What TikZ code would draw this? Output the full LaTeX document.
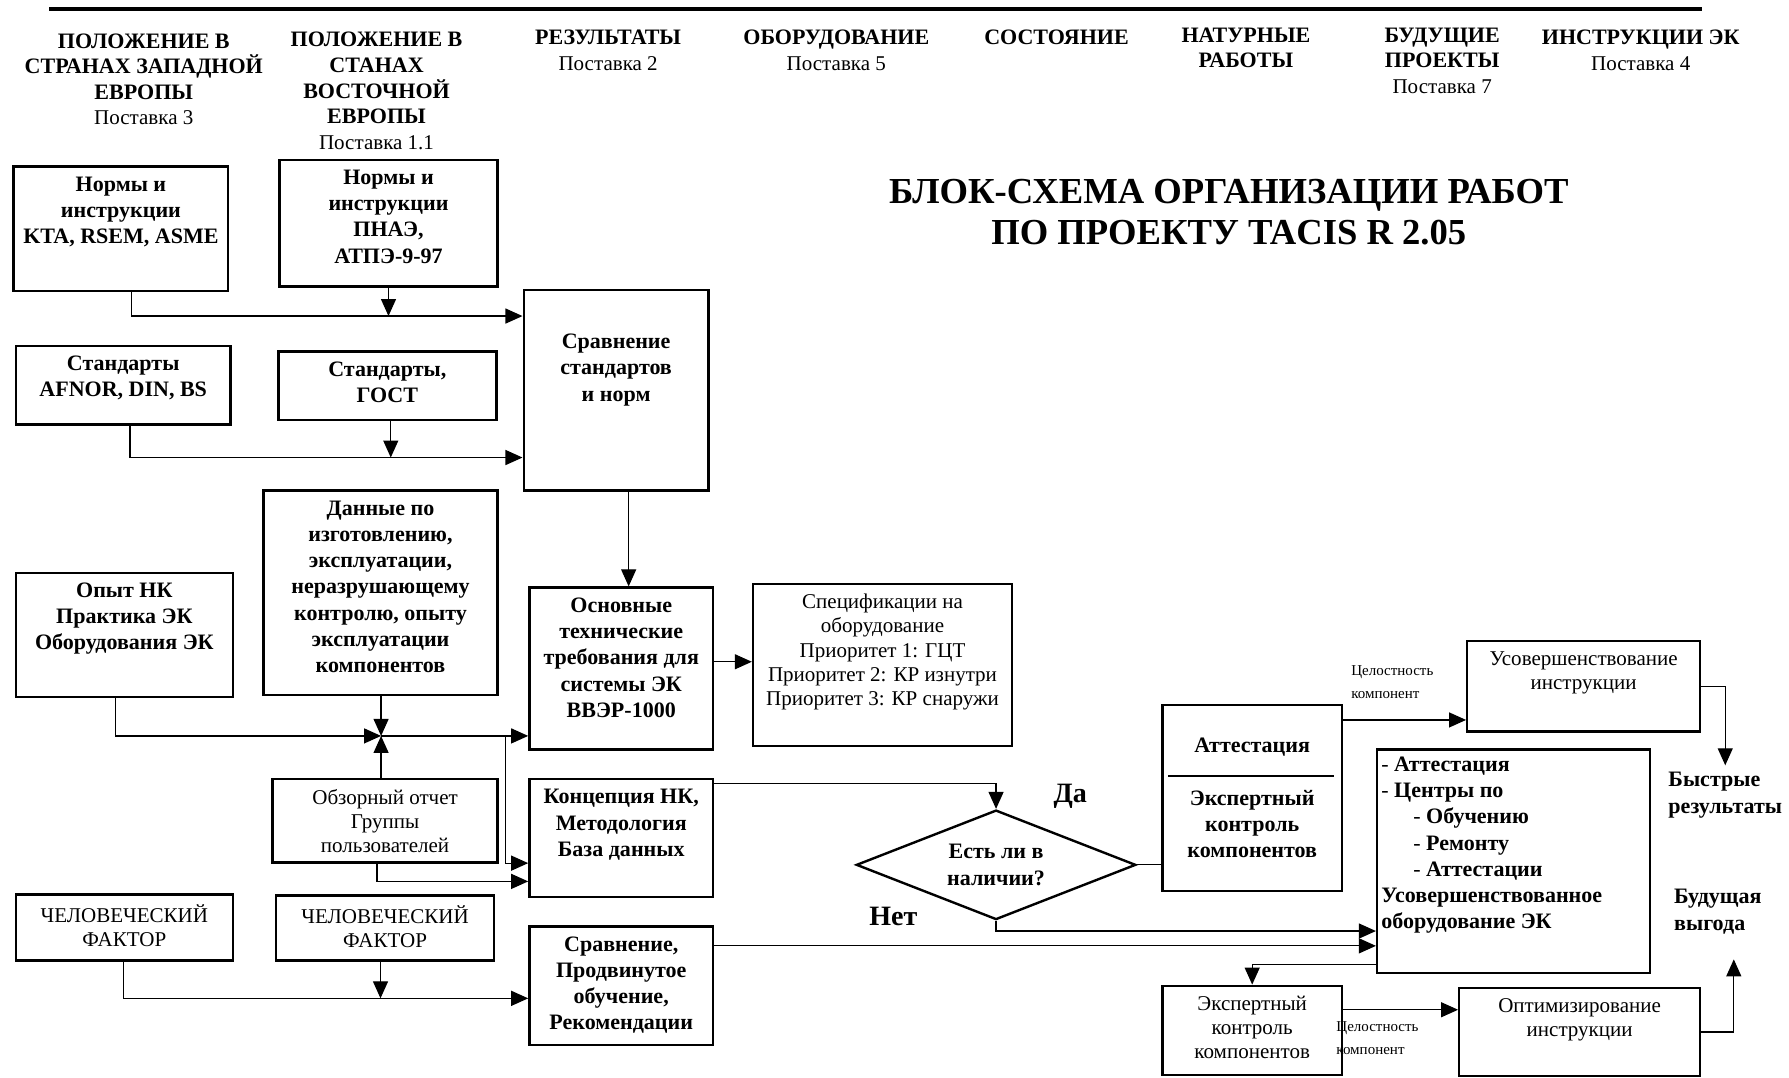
\documentclass[tikz,border=0pt]{standalone}
\usepackage{fontspec}
\setmainfont{Liberation Serif}
\usetikzlibrary{shapes.geometric, arrows.meta, positioning, calc}

\newcommand{\bsz}{\fontsize{11}{13.1}\selectfont}
\newcommand{\rsz}{\fontsize{10.5}{12}\selectfont}
\newcommand{\pst}[1]{{\mdseries\fontsize{10.5}{12.8}\selectfont #1}}

\begin{document}
\begin{tikzpicture}[x=0.57pt, y=-0.57pt,
  blk/.style={draw, line width=1.2pt, inner sep=0pt},
  sz/.style 2 args={minimum width=#1*0.57pt, minimum height=#2*0.57pt},
  lb/.style={anchor=north, yshift=-3.5pt, align=center, inner sep=2pt},
  bt/.style={label={[lb, font=\bfseries\bsz]north:{#1}}},
  rt/.style={label={[lb, font=\rsz]north:{#1}}},
  hdr/.style={anchor=north, align=center, inner sep=0pt, font=\bfseries\fontsize{11}{12.8}\selectfont},
  side/.style={anchor=west, align=left, inner sep=0pt, font=\bfseries\bsz},
  note/.style={anchor=north west, align=left, inner sep=0pt, font=\fontsize{7.5}{11.4}\selectfont},
  arr/.style={-{Triangle[length=8.5pt, width=7.5pt]}, line width=0.6pt},
  ln/.style={line width=0.6pt}
]
  \useasboundingbox (0,0) rectangle (1568,944);
  \draw[line width=1.7pt] (43,8) -- (1492,8);

  % column heads
  \node[hdr] (hdwest) at (126,29) {ПОЛОЖЕНИЕ В\\СТРАНАХ ЗАПАДНОЙ\\ЕВРОПЫ\\\pst{Поставка 3}};
  \node[hdr] (hdeast) at (330,28) {ПОЛОЖЕНИЕ В\\СТАНАХ\\ВОСТОЧНОЙ\\ЕВРОПЫ\\\pst{Поставка 1.1}};
  \node[hdr] (hdres) at (533,26) {РЕЗУЛЬТАТЫ\\\pst{Поставка 2}};
  \node[hdr] (hdequip) at (733,26) {ОБОРУДОВАНИЕ\\\pst{Поставка 5}};
  \node[hdr] (hdstate) at (926,26) {СОСТОЯНИЕ};
  \node[hdr] (hdfield) at (1092,24) {НАТУРНЫЕ\\РАБОТЫ};
  \node[hdr] (hdfut) at (1264,24) {БУДУЩИЕ\\ПРОЕКТЫ\\\pst{Поставка 7}};
  \node[hdr] (hdinstr) at (1438,26) {ИНСТРУКЦИИ ЭК\\\pst{Поставка 4}};

  \node[anchor=north, align=center, inner sep=0pt, font=\bfseries\fontsize{18.3}{20.3}\selectfont] (title) at (1077,157)
    {БЛОК-СХЕМА ОРГАНИЗАЦИИ РАБОТ\\ПО ПРОЕКТУ TACIS R 2.05};

  % boxes
  \node[blk, sz={188}{109}, bt={Нормы и\\инструкции\\KTA, RSEM, ASME}] (nwest) at (106,200.5) {};
  \node[blk, sz={191}{111}, bt={Нормы и\\инструкции\\ПНАЭ,\\АТПЭ-9-97}] (neast) at (340.5,195.5) {};
  \node[blk, sz={162}{176}, label={[lb, yshift=-17pt, font=\bfseries\bsz]north:{Сравнение\\стандартов\\и норм}}] (cmp) at (540,342) {};
  \node[blk, sz={188}{69}, bt={Стандарты\\AFNOR, DIN, BS}] (swest) at (108,337.5) {};
  \node[blk, sz={191}{60}, bt={Стандарты,\\ГОСТ}] (seast) at (339.5,338) {};
  \node[blk, sz={205}{179}, bt={Данные по\\изготовлению,\\эксплуатации,\\неразрушающему\\контролю, опыту\\эксплуатации\\компонентов}] (data) at (333.5,519.5) {};
  \node[blk, sz={190}{109}, bt={Опыт НК\\Практика ЭК\\Оборудования ЭК}] (ndt) at (109,556.5) {};
  \node[blk, sz={161}{142}, bt={Основные\\технические\\требования для\\системы ЭК\\ВВЭР-1000}] (req) at (544.5,586) {};
  \node[blk, sz={227}{142}, rt={Спецификации на\\оборудование\\Приоритет 1: ГЦТ\\Приоритет 2: КР изнутри\\Приоритет 3: КР снаружи}] (spec) at (773.5,583) {};
  \node[blk, sz={197}{73}, rt={Обзорный отчет\\Группы\\пользователей}] (rev) at (337.5,719.5) {};
  \node[blk, sz={161}{103}, bt={Концепция НК,\\Методология\\База данных}] (conc) at (544.5,734.5) {};
  \node[blk, sz={190}{58}, rt={ЧЕЛОВЕЧЕСКИЙ\\ФАКТОР}] (hum1) at (109,813) {};
  \node[blk, sz={191}{57}, rt={ЧЕЛОВЕЧЕСКИЙ\\ФАКТОР}] (hum2) at (337.5,813.5) {};
  \node[blk, sz={161}{104}, bt={Сравнение,\\Продвинутое\\обучение,\\Рекомендации}] (train) at (544.5,864) {};

  \node[blk, diamond, aspect=2.55, sz={245}{96}, inner sep=1pt, align=center, font=\bfseries\bsz] (avail) at (873,758) {Есть ли в\\наличии?};
  \node[font=\bfseries\fontsize{14}{16}\selectfont] (yes) at (938,698) {Да};
  \node[font=\bfseries\fontsize{14}{16}\selectfont] (no) at (783,803) {Нет};

  \node[blk, sz={157}{163}, align=center, font=\bfseries\bsz] (att) at (1097.5,699.5) {Аттестация\\[13pt]Экспертный\\контроль\\компонентов};
  \draw[line width=0.8pt] ($(att.west)+(6,-19.5)$) -- ($(att.east)+(-8,-19.5)$);
  \node[blk, sz={204}{79}, rt={Усовершенствование\\инструкции}] (impr) at (1388,601.5) {};
  \node[blk, sz={239}{196}, label={[anchor=north west, align=left, inner sep=0pt, xshift=2.5pt, yshift=-4pt, font=\bfseries\bsz]north west:{{\mdseries -} Аттестация\\{\mdseries -} Центры по\\\hspace*{16pt}{\mdseries -} Обучению\\\hspace*{16pt}{\mdseries -} Ремонту\\\hspace*{16pt}{\mdseries -} Аттестации\\Усовершенствованное\\оборудование ЭК}}] (ctr) at (1326.5,755) {};
  \node[blk, sz={157}{78}, rt={Экспертный\\контроль\\компонентов}] (exp) at (1097.5,903) {};
  \node[blk, sz={211}{77}, rt={Оптимизирование\\инструкции}] (opt) at (1384.5,904.5) {};

  \node[side] (fast) at (1462,697) {Быстрые\\результаты};
  \node[side] (gain) at (1467,799) {Будущая\\выгода};
  \node[note] (int1) at (1184,583) {Целостность\\компонент};
  \node[note] (int2) at (1171,895) {Целостность\\компонент};

  % connectors
  \coordinate (busA) at ($(cmp.west)+(0,-65)$);
  \coordinate (busB) at ($(cmp.west)+(0,59)$);
  \coordinate (busH) at ($(train.west)+(0,11)$);
  \coordinate (J) at (334,645);
  \coordinate (Jb) at (443,645);
  \coordinate (gs) at ($(seast.south)+(3,0)$);
  \coordinate (gh) at ($(hum2.south)+(-4,0)$);

  \draw[arr] ($(nwest.south)+(9,0)$) |- (busA);
  \draw[arr] (neast.south) -- (neast.south |- busA);
  \draw[arr] ($(swest.south)+(6,0)$) |- (busB);
  \draw[arr] (gs) -- (gs |- busB);
  \draw[arr] ($(cmp.south)+(11,0)$) -- ($(req.north)+(6.5,0)$);

  \draw[arr] ($(ndt.south)+(-8,0)$) |- (J);
  \draw[arr] (data.south -| J) -- (J);
  \draw[arr] (rev.north -| J) -- (J);
  \draw[arr] (J) -- (J -| req.west);
  \draw[arr] (Jb) |- ($(conc.west)+(0,22)$);
  \draw[arr] ($(rev.south)+(-7,0)$) |- ($(conc.west)+(0,38)$);

  \draw[arr] ($(hum1.south)+(-1,0)$) |- (busH);
  \draw[arr] (gh) -- (gh |- busH);

  \draw[arr] ($(req.east)+(0,-6)$) -- ($(spec.west)+(0,-3)$);
  \draw[arr] ($(conc.east)+(0,-48)$) -| (avail.north);
  \draw[ln] (avail.east) -- (avail.east -| att.west);
  \draw[arr] (avail.south) |- ($(ctr.west)+(0,61)$);
  \draw[arr] ($(train.east)+(0,-35)$) -- ($(ctr.west)+(0,74)$);
  \draw[arr] ($(ctr.west)+(0,90)$) -| (exp.north);
  \draw[arr] ($(att.east)+(0,-68.5)$) -- ($(impr.west)+(0,29.5)$);
  \draw[arr] (impr.east) -| ($(fast.north)+(0,-6)$);
  \draw[arr] ($(exp.east)+(0,-18)$) -- ($(opt.west)+(0,-19.5)$);
  \draw[arr] (opt.east) -| ($(gain.south)+(14,22)$);
\end{tikzpicture}
\end{document}
